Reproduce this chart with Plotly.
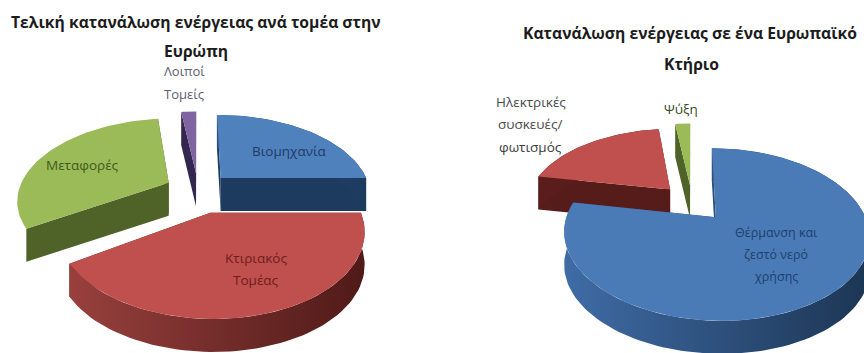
import math
import plotly.graph_objects as go

# Final energy consumption by sector in Europe (%)
europe_sectors = ["Βιομηχανία", "Κτιριακός Τομέας", "Μεταφορές", "Λοιποί Τομείς"]
europe_values = [25, 41, 32, 2]

# Energy use in a European building (%)
building_uses = ["Θέρμανση και ζεστό νερό χρήσης", "Ηλεκτρικές συσκευές/φωτισμός", "Ψύξη"]
building_values = [78, 20, 2]

TOP = {"blue": "#4f81bd", "red": "#c0504d", "red2": "#c0504d", "green": "#9bbb59", "purple": "#8064a2", "blue2": "#4a7bb7"}
SIDE = {"blue": "#1d3a5f", "red": "#5e1f1d", "red2": "#561c1a", "green": "#4f6228", "purple": "#33264f", "blue2": "#2a4d7c"}
RIM = {
    "blue": ("#2a4d7c", "#1d3a5f"),
    "red": ("#98403d", "#4f1a18"),
    "red2": ("#5a1d1b", "#561c1a"),
    "green": ("#566b2c", "#4f6228"),
    "purple": ("#33264f", "#33264f"),
    "blue2": ("#3f6ca6", "#1c3553"),
}

RX, RY, PERSPECTIVE, DEPTH = 150, 80, 0.20, 33

fig = go.Figure()


def project(px, py, cx, cy):
    w = 1 / (1 - PERSPECTIVE * py)
    return cx + RX * px * w, cy + RY * py * w


def polygon(points, color=None, gradient=None):
    fig.add_trace(go.Scatter(
        x=[p[0] for p in points] + [points[0][0]],
        y=[p[1] for p in points] + [points[0][1]],
        mode="lines", line=dict(width=0), fill="toself",
        fillcolor=color, fillgradient=gradient,
        hoverinfo="skip", showlegend=False,
    ))


def drop(points):
    return [(x, y + DEPTH) for x, y in points]


def draw_pie(values, colors, order, cx, cy, explode, scale, rim_band):
    """Exploded wedges starting at twelve o'clock, running clockwise."""
    total = sum(values)
    start = -90.0
    wedges = []
    for value, color in zip(values, colors):
        sweep = 360.0 * value / total
        wedges.append((start, start + sweep, color))
        start += sweep
    for idx in order:
        a0, a1, color = wedges[idx]
        mid = math.radians((a0 + a1) / 2)
        ax, ay = explode[idx] * math.cos(mid), explode[idx] * math.sin(mid)
        steps = max(6, int((a1 - a0) / 2))
        angles = [math.radians(a0 + (a1 - a0) * i / steps) for i in range(steps + 1)]
        rim = [project(ax + scale[idx] * math.cos(t), ay + scale[idx] * math.sin(t), cx, cy) for t in angles]
        apex = project(ax, ay, cx, cy)
        polygon([apex, rim[0]] + drop([rim[0], apex]), SIDE[color])
        polygon([apex, rim[-1]] + drop([rim[-1], apex]), SIDE[color])
        if rim_band[idx]:
            gradient = dict(type="horizontal", colorscale=[[0, RIM[color][0]], [1, RIM[color][1]]])
            polygon(rim + drop(rim)[::-1], gradient=gradient)
        polygon([apex] + rim, TOP[color])


draw_pie(europe_values, ["blue", "red", "green", "purple"], [3, 0, 2, 1], 198, 190,
         explode=[0.22, 0.28, 0.22, 0.22], scale=[1, 0.95, 1, 1],
         rim_band=[True, True, False, False])
draw_pie(building_values, ["blue2", "red2", "green"], [2, 1, 0], 692, 202,
         explode=[0.24, 0.22, 0.22], scale=[0.96, 0.96, 1],
         rim_band=[True, True, False])

TITLE_FONT = dict(size=15.7, color="#1c1c1c")
labels = [
    ("<b>Τελική κατανάλωση ενέργειας ανά τομέα στην</b>", 196, 22, TITLE_FONT),
    ("<b>Ευρώπη</b>", 196, 51, TITLE_FONT),
    ("<b>Κατανάλωση ενέργειας σε ένα Ευρωπαϊκό</b>", 690, 33, TITLE_FONT),
    ("<b>Κτήριο</b>", 691, 64, TITLE_FONT),
    ("Λοιποί", 184, 71, dict(size=13, color="#5d5d72")),
    ("Τομείς", 184, 94, dict(size=13, color="#5d5d72")),
    ("Βιομηχανία", 289, 151, dict(size=13.5, color="#1f3b66")),
    ("Μεταφορές", 82, 165, dict(size=13.5, color="#3f5a1c")),
    ("Κτιριακός", 256, 258, dict(size=13.5, color="#6e1e1c")),
    ("Τομέας", 256, 280, dict(size=13.5, color="#6e1e1c")),
    ("Ηλεκτρικές", 531, 102, dict(size=13.5, color="#4a4a4a")),
    ("συσκευές/", 530, 124, dict(size=13.5, color="#4a4a4a")),
    ("φωτισμός", 530, 147, dict(size=13.5, color="#3a3a3a")),
    ("Ψύξη", 681, 109, dict(size=13.5, color="#3d4a2a")),
    ("Θέρμανση και", 776, 232, dict(size=12.5, color="#1d3f6e")),
    ("ζεστό νερό", 776, 254, dict(size=12.5, color="#1d3f6e")),
    ("χρήσης", 776, 276, dict(size=12.5, color="#1d3f6e")),
]
for text, x, y, font in labels:
    fig.add_annotation(
        x=x, y=y, text=text, showarrow=False, xanchor="center", yanchor="middle",
        font=dict(family="Open Sans", size=font["size"], color=font["color"]),
    )

fig.update_layout(
    width=864, height=353, margin=dict(l=0, r=0, t=0, b=0),
    paper_bgcolor="white", plot_bgcolor="white", showlegend=False,
    xaxis=dict(range=[0, 864], visible=False, fixedrange=True),
    yaxis=dict(range=[353, 0], visible=False, fixedrange=True),
)

fig.write_html("out.html", config={"displayModeBar": False})
